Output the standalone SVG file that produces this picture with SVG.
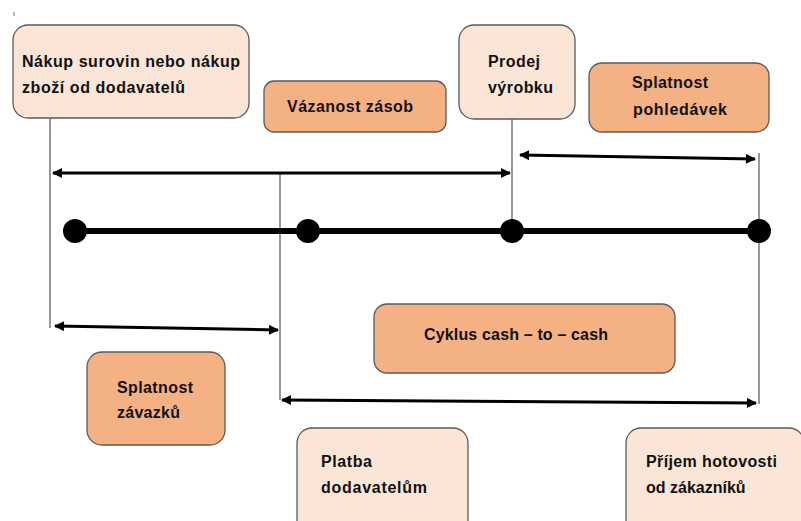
<svg xmlns="http://www.w3.org/2000/svg" width="801" height="521" viewBox="0 0 801 521">
<style>
.light{fill:#FBE5D6;stroke:#5a5a5a;stroke-width:1.3}
.dark{fill:#F4B183;stroke:#5a5a5a;stroke-width:1.3}
text{font-family:"Liberation Sans",Arial,sans-serif;font-weight:bold;font-size:16px;fill:#111}
.guide{stroke:#555;stroke-width:1.2;fill:none}
.arrow{stroke:#000;stroke-width:3;fill:none;marker-start:url(#ah);marker-end:url(#ah)}
.dot{fill:#000}
</style>
<defs>
<marker id="ah" viewBox="0 0 10 10" refX="9" refY="5" markerWidth="11" markerHeight="10" markerUnits="userSpaceOnUse" orient="auto-start-reverse">
<path d="M0,0 L10,5 L0,10 z" fill="#000"/>
</marker>
</defs>
<rect width="801" height="521" fill="#fff"/>
<line x1="14" y1="12" x2="14" y2="16" stroke="#777" stroke-width="1"/>
<g id="connectors">
<line class="guide" x1="50" y1="118" x2="50" y2="328"/>
<line class="guide" x1="512" y1="119" x2="512" y2="231"/>
<line class="guide" x1="280" y1="173" x2="280" y2="400"/>
<line class="guide" x1="759" y1="153" x2="759" y2="404"/>
<line class="arrow" x1="53" y1="173" x2="510" y2="173"/>
<line class="arrow" x1="520" y1="155" x2="755" y2="159"/>
<line class="arrow" x1="55" y1="326" x2="278" y2="330"/>
<line class="arrow" x1="282" y1="400" x2="756" y2="403"/>
<line x1="75" y1="231" x2="759" y2="231" stroke="#000" stroke-width="6"/>
<circle class="dot" cx="75" cy="231" r="12"/>
<circle class="dot" cx="308" cy="231" r="12"/>
<circle class="dot" cx="512" cy="231" r="12"/>
<circle class="dot" cx="759" cy="231" r="12"/>
</g>
<g id="nakup">
<rect class="light" x="13" y="25" width="236" height="93" rx="15"/>
<text x="22" y="67" textLength="218">Nákup surovin nebo nákup</text>
<text x="22" y="93" textLength="163">zboží od dodavatelů</text>
</g>
<g id="prodej">
<rect class="light" x="459" y="25" width="116" height="94" rx="15"/>
<text x="488" y="67" textLength="52">Prodej</text>
<text x="488" y="93" textLength="65">výrobku</text>
</g>
<g id="splatnost-pohledavek">
<rect class="dark" x="589" y="63" width="180" height="69" rx="13"/>
<text x="632" y="88" textLength="76">Splatnost</text>
<text x="633" y="115" textLength="94">pohledávek</text>
</g>
<g id="vazanost">
<rect class="dark" x="264" y="81" width="182" height="51" rx="10"/>
<text x="287" y="112" textLength="126">Vázanost zásob</text>
</g>
<g id="cyklus">
<rect class="dark" x="374" y="304" width="301" height="69" rx="13"/>
<text x="424" y="340" textLength="184">Cyklus cash – to – cash</text>
</g>
<g id="splatnost-zavazku">
<rect class="dark" x="87" y="352" width="138" height="93" rx="15"/>
<text x="117" y="393" textLength="76">Splatnost</text>
<text x="117" y="418" textLength="63">závazků</text>
</g>
<g id="platba">
<rect class="light" x="297" y="428" width="171" height="110" rx="15"/>
<text x="321" y="467" textLength="51">Platba</text>
<text x="321" y="493" textLength="106">dodavatelům</text>
</g>
<g id="prijem">
<rect class="light" x="626" y="428" width="178" height="110" rx="15"/>
<text x="646" y="467" textLength="131">Příjem hotovosti</text>
<text x="646" y="493">od zákazníků</text>
</g>
</svg>
